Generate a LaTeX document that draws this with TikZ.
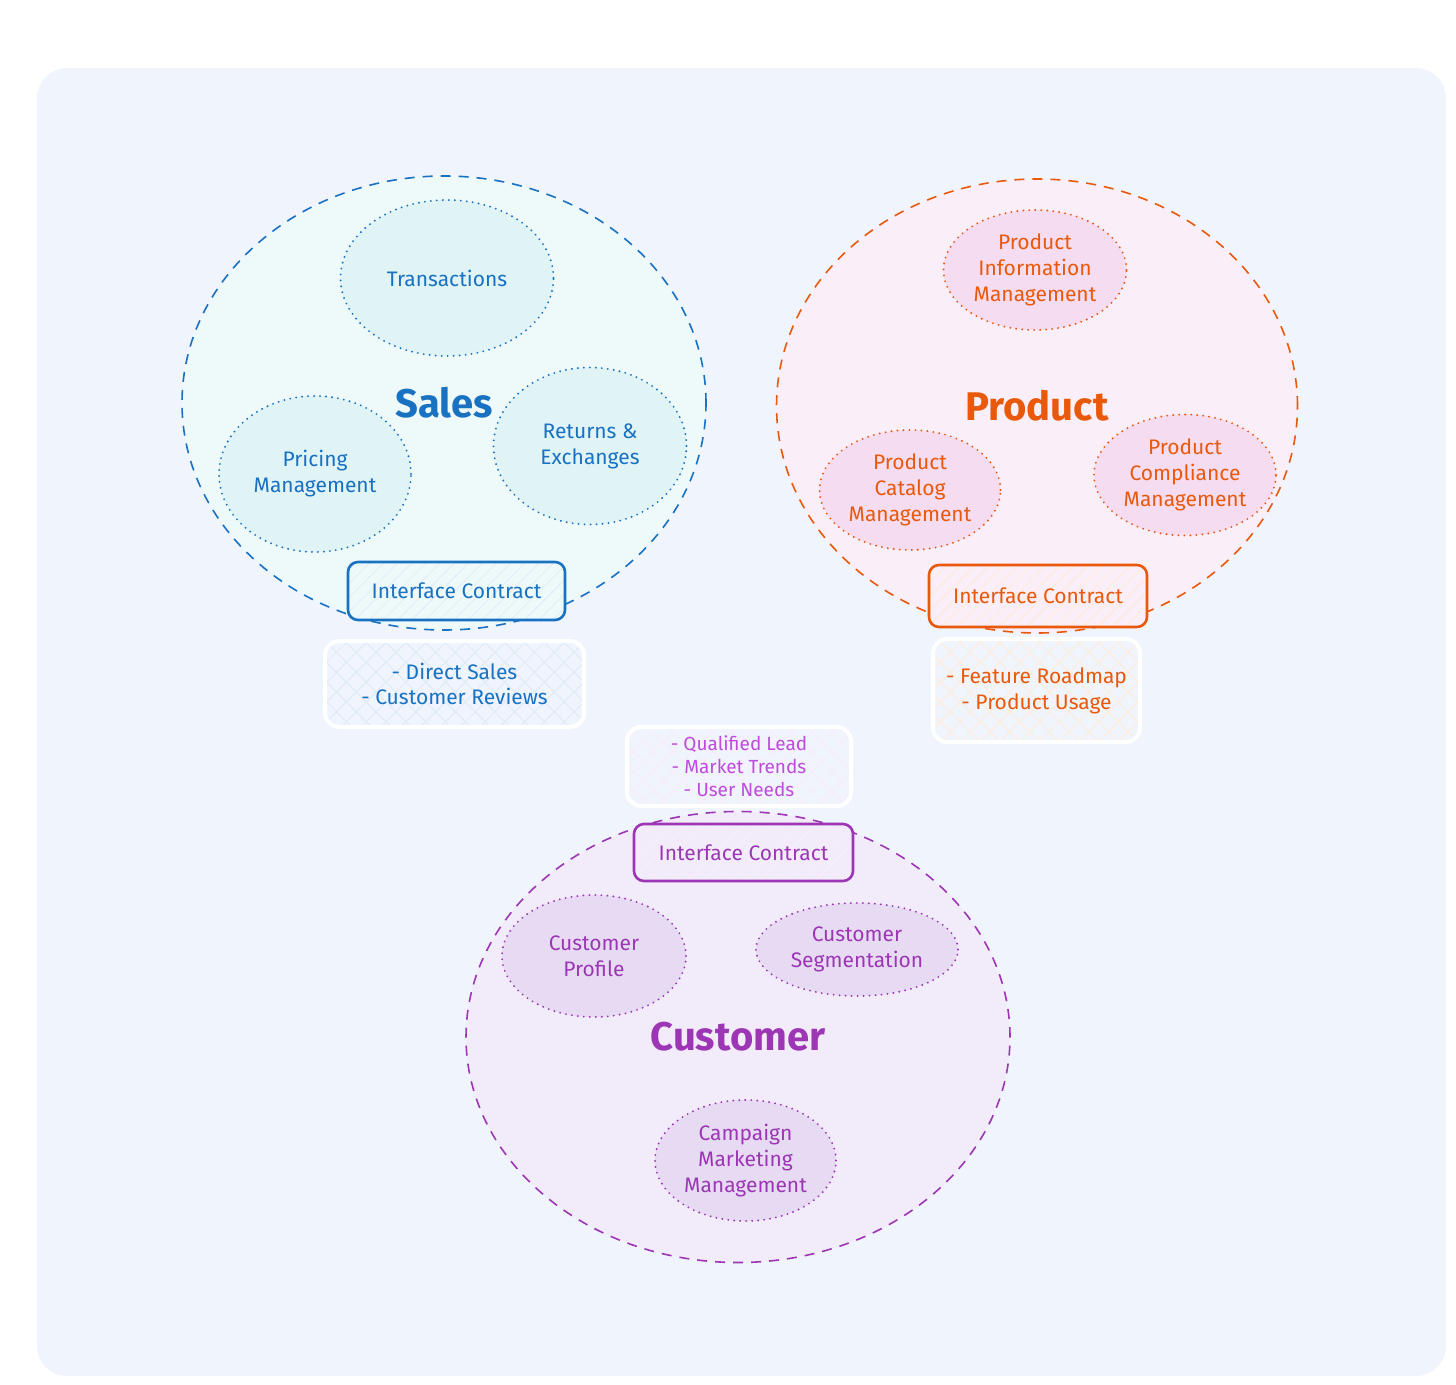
\documentclass[tikz,border=0pt]{standalone}
\usepackage{fontspec}
\setmainfont{Fira Sans}
\usetikzlibrary{shapes.geometric,patterns.meta}
\definecolor{panel}{HTML}{F0F4FC}
\definecolor{sblue}{HTML}{1971C2}
\definecolor{sfill}{HTML}{EEF9FA}
\definecolor{ssub}{HTML}{E0F4F6}
\definecolor{pora}{HTML}{E8590C}
\definecolor{pfill}{HTML}{FAEEF8}
\definecolor{psub}{HTML}{F6DCF1}
\definecolor{cpur}{HTML}{9C36B5}
\definecolor{cfill}{HTML}{F2ECFA}
\definecolor{csub}{HTML}{E7DBF4}
\definecolor{cmag}{HTML}{BE4BDB}
\begin{document}
\begin{tikzpicture}[x=0.5pt,y=-0.5pt,
  bigcirc/.style={ellipse, inner sep=0pt, line width=0.8pt, dash pattern=on 5pt off 4pt,
    font=\fontsize{20}{24}\selectfont\bfseries},
  subcirc/.style={ellipse, inner sep=0pt, line width=1.05pt, dash pattern=on 0pt off 3pt,
    line cap=round, align=center, font=\fontsize{10.5}{13}\selectfont},
  icbox/.style={rectangle, rounded corners=5pt, line width=1.3pt, inner sep=0pt,
    font=\fontsize{10.5}{13}\selectfont,
    pattern={Lines[angle=45,distance=5pt,line width=0.5pt]}},
  infobox/.style={rectangle, rounded corners=7pt, draw=white, line width=2pt, inner sep=0pt,
    align=center, pattern={Hatch[angle=45,distance=7pt,line width=0.5pt]}}
]
\useasboundingbox (0,0) rectangle (1456,1385);
\fill[panel, rounded corners=15pt] (37,68) rectangle (1446,1376);

% ---------------- Sales ----------------
\node[bigcirc, draw=sblue, fill=sfill, text=sblue, minimum width=262pt, minimum height=227pt]
  (sales) at (444,403) {Sales};
\node[subcirc, draw=sblue, fill=ssub, text=sblue, minimum width=106.5pt, minimum height=78pt]
  (trans) at (447,278) {Transactions};
\node[subcirc, draw=sblue, fill=ssub, text=sblue, minimum width=96pt, minimum height=78pt]
  (pricing) at (315,474) {Pricing\\Management};
\node[subcirc, draw=sblue, fill=ssub, text=sblue, minimum width=96.5pt, minimum height=78.5pt]
  (returns) at (590,446) {Returns \&\\Exchanges};
\node[icbox, draw=sblue, preaction={fill=sfill}, pattern color=sblue!12, text=sblue,
  minimum width=108.5pt, minimum height=29pt] (salesic) at (456.5,591) {Interface Contract};
\node[infobox, preaction={fill=panel}, pattern color=sblue!14, text=sblue,
  minimum width=129.5pt, minimum height=43pt, font=\fontsize{10.5}{12.5}\selectfont]
  (salesinfo) at (454.5,684) {- Direct Sales\\- Customer Reviews};

% ---------------- Product ----------------
\node[bigcirc, draw=pora, fill=pfill, text=pora, minimum width=260.5pt, minimum height=227pt]
  (product) at (1037,406) {Product};
\node[subcirc, draw=pora, fill=psub, text=pora, minimum width=91.5pt, minimum height=60pt]
  (pim) at (1035,270) {Product\\Information\\Management};
\node[subcirc, draw=pora, fill=psub, text=pora, minimum width=90.5pt, minimum height=60pt]
  (pcm) at (910,490) {Product\\Catalog\\Management};
\node[subcirc, draw=pora, fill=psub, text=pora, minimum width=91pt, minimum height=60.5pt]
  (pcomp) at (1185,475) {Product\\Compliance\\Management};
\node[icbox, draw=pora, preaction={fill=pfill}, pattern color=orange!15, text=pora,
  minimum width=109pt, minimum height=31pt] (prodic) at (1038,596) {Interface Contract};
\node[infobox, preaction={fill=panel}, pattern color=orange!14, text=pora,
  minimum width=103.5pt, minimum height=51.5pt, font=\fontsize{10.5}{13}\selectfont]
  (prodinfo) at (1036.5,690.5) {- Feature Roadmap\\- Product Usage};

% ---------------- Customer ----------------
\node[bigcirc, draw=cpur, fill=cfill, text=cpur, minimum width=272pt, minimum height=225.5pt]
  (customer) at (738,1037) {Customer};
\node[subcirc, draw=cpur, fill=csub, text=cpur, minimum width=92pt, minimum height=61pt]
  (cprof) at (594,956) {Customer\\Profile};
\node[subcirc, draw=cpur, fill=csub, text=cpur, minimum width=101pt, minimum height=46.5pt]
  (cseg) at (857,949.5) {Customer\\Segmentation};
\node[subcirc, draw=cpur, fill=csub, text=cpur, minimum width=90.5pt, minimum height=60.5pt]
  (cmm) at (745.5,1160.5) {Campaign\\Marketing\\Management};
\node[icbox, draw=cpur, preaction={fill=cfill}, pattern color=cpur!8, text=cpur,
  minimum width=109.5pt, minimum height=28.5pt] (custic) at (743.5,852.5) {Interface Contract};
\node[infobox, preaction={fill=panel}, pattern color=cmag!10, text=cmag,
  minimum width=112pt, minimum height=39.5pt, font=\fontsize{9.5}{11.5}\selectfont]
  (custinfo) at (739,766.5) {- Qualified Lead\\- Market Trends\\- User Needs};
\end{tikzpicture}
\end{document}
